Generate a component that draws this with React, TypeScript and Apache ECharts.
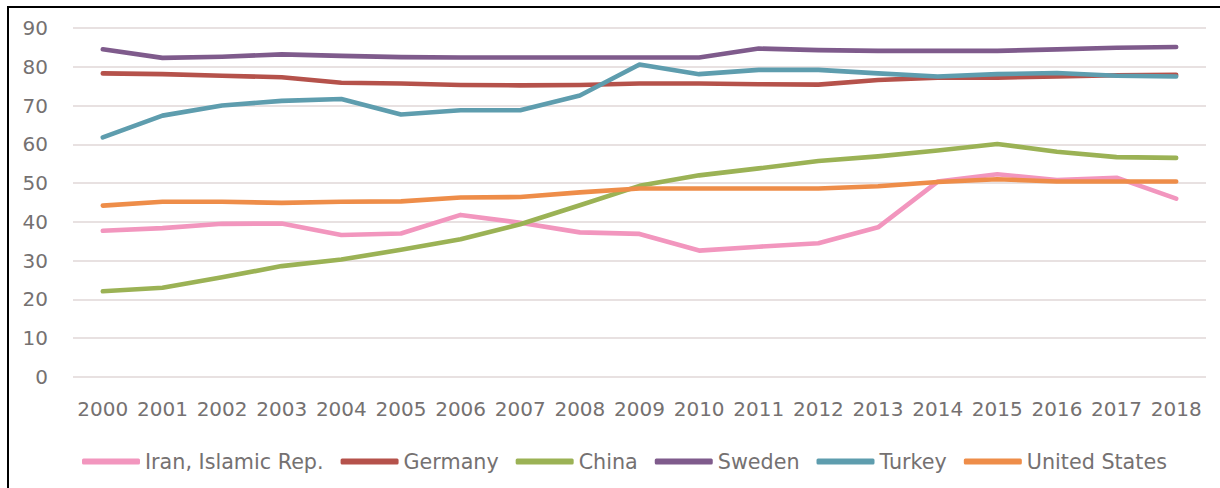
import React, { useEffect, useRef } from "react";
import * as echarts from "echarts";

const years = ["2000","2001","2002","2003","2004","2005","2006","2007","2008","2009","2010","2011","2012","2013","2014","2015","2016","2017","2018"];
const iran = [37.7, 38.4, 39.5, 39.6, 36.6, 37.0, 41.8, 39.8, 37.3, 36.9, 32.6, 33.6, 34.5, 38.6, 50.4, 52.3, 50.8, 51.4, 46.0];
const germany = [78.3, 78.1, 77.7, 77.3, 75.9, 75.7, 75.3, 75.2, 75.3, 75.7, 75.7, 75.5, 75.4, 76.6, 77.2, 77.2, 77.5, 77.8, 77.9];
const china = [22.1, 23.0, 25.7, 28.6, 30.3, 32.8, 35.5, 39.4, 44.3, 49.3, 52.0, 53.8, 55.7, 56.9, 58.4, 60.1, 58.1, 56.7, 56.5];
const sweden = [84.5, 82.3, 82.6, 83.2, 82.8, 82.5, 82.4, 82.4, 82.4, 82.4, 82.4, 84.7, 84.3, 84.1, 84.1, 84.1, 84.5, 84.9, 85.1];
const turkey = [61.8, 67.4, 70.0, 71.2, 71.7, 67.7, 68.8, 68.8, 72.6, 80.6, 78.1, 79.2, 79.2, 78.3, 77.5, 78.1, 78.4, 77.7, 77.5];
const us = [44.2, 45.2, 45.2, 44.9, 45.2, 45.3, 46.3, 46.4, 47.6, 48.6, 48.6, 48.6, 48.6, 49.2, 50.3, 51.0, 50.4, 50.4, 50.4];

const seriesNames = ["Iran, Islamic Rep.", "Germany", "China", "Sweden", "Turkey", "United States"];
const seriesData = [iran, germany, china, sweden, turkey, us];
const colors = ["#F296BE", "#B5524B", "#9BB255", "#7F5B8C", "#5E9DAE", "#EE8D49"];
const yTicks = { min: 0, max: 90, interval: 10 };

export default function App() {
  const ref = useRef<HTMLDivElement>(null);
  useEffect(() => {
    if (!ref.current) return;
    const chart = echarts.init(ref.current, null, { renderer: "svg" });
    const font = "DejaVu Sans";
    const textColor = "#757171";
    chart.setOption({
      animation: false,
      backgroundColor: "#ffffff",
      grid: { left: 73, right: 14, top: 28, bottom: 111, containLabel: false },
      xAxis: {
        type: "category",
        data: years,
        boundaryGap: true,
        axisLine: { show: false },
        axisTick: { show: false },
        axisLabel: { color: textColor, fontFamily: font, fontSize: 20, margin: 22, interval: 0 },
      },
      yAxis: {
        type: "value",
        min: yTicks.min,
        max: yTicks.max,
        interval: yTicks.interval,
        axisLine: { show: false },
        axisTick: { show: false },
        axisLabel: { color: textColor, fontFamily: font, fontSize: 20, margin: 25 },
        splitLine: { show: true, lineStyle: { color: "#E8E1E1", width: 2 } },
      },
      legend: {
        left: 82,
        top: 451,
        padding: 0,
        icon: "roundRect",
        itemWidth: 58,
        itemHeight: 6,
        itemGap: 17,
        textStyle: { color: textColor, fontFamily: font, fontSize: 20.7 },
        data: seriesNames,
      },
      series: seriesNames.map((name, i) => ({
        name,
        type: "line",
        data: seriesData[i],
        showSymbol: false,
        symbol: "none",
        color: colors[i],
        lineStyle: { color: colors[i], width: 4.6, cap: "round", join: "round" },
        itemStyle: { color: colors[i] },
      })),
    });
    return () => chart.dispose();
  }, []);
  return (
    <>
      <div ref={ref} style={{ position: "fixed", left: 0, top: 0, width: 1220, height: 488 }} />
      <div
        style={{
          position: "fixed",
          left: 7,
          top: 6,
          width: 1300,
          height: 600,
          borderTop: "2px solid #000",
          borderLeft: "2px solid #000",
          pointerEvents: "none",
        }}
      />
    </>
  );
}
